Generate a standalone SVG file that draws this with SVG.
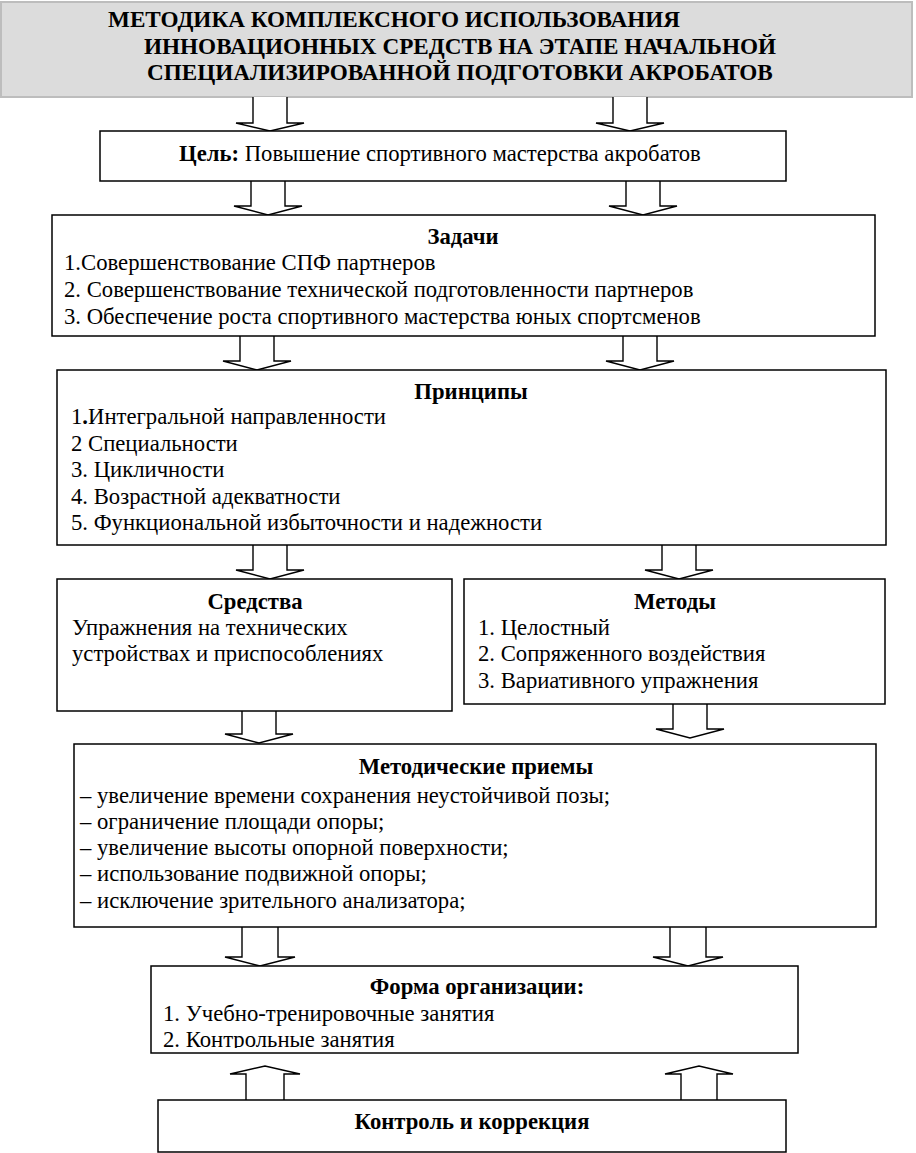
<svg xmlns="http://www.w3.org/2000/svg" width="916" height="1153" viewBox="0 0 916 1153">
<style>
  .box { fill: #ffffff; stroke: #000000; stroke-width: 1.5; }
  .title-box { fill: #dcdcdc; stroke: #bdbdbd; stroke-width: 2; }
  .arrow { fill: #ffffff; stroke: #000000; stroke-width: 1.4; stroke-linejoin: miter; }
  text { font-family: "Liberation Serif", "Times New Roman", serif; fill: #000000; }
  .t { font-size: 22.7px; }
  .h { font-size: 22.7px; font-weight: bold; }
  .big { font-size: 23.2px; font-weight: bold; }
  .c { text-anchor: middle; }
</style>
<defs>
  <clipPath id="formaClip"><rect x="151" y="966" width="647" height="82"/></clipPath>
</defs>
<rect width="916" height="1153" fill="#ffffff"/>

<g id="title">
  <rect class="title-box" x="1" y="2" width="911" height="95"/>
  <text class="big" x="108" y="27">МЕТОДИКА КОМПЛЕКСНОГО ИСПОЛЬЗОВАНИЯ</text>
  <text class="big" x="144" y="54">ИННОВАЦИОННЫХ СРЕДСТВ НА ЭТАПЕ НАЧАЛЬНОЙ</text>
  <text class="big" x="147" y="80">СПЕЦИАЛИЗИРОВАННОЙ ПОДГОТОВКИ АКРОБАТОВ</text>
</g>

<g id="connectors">
  <path class="arrow" d="M253,97 V123 H236 L270,131 L304,123 H287 V97"/>
  <path class="arrow" d="M613,97 V123 H596 L630,131 L664,123 H647 V97"/>
  <path class="arrow" d="M251,181 V206 H234 L268,215 L302,206 H285 V181"/>
  <path class="arrow" d="M626,181 V206 H609 L643,215 L677,206 H660 V181"/>
  <path class="arrow" d="M240,336 V361 H223 L257,370 L291,361 H274 V336"/>
  <path class="arrow" d="M623,336 V361 H606 L640,370 L674,361 H657 V336"/>
  <path class="arrow" d="M253,545 V570 H236 L270,579 L304,570 H287 V545"/>
  <path class="arrow" d="M662,545 V570 H645 L679,579 L713,570 H696 V545"/>
  <path class="arrow" d="M242,711 V734 H225 L259,743 L293,734 H276 V711"/>
  <path class="arrow" d="M673,704 V729 H656 L690,738 L724,729 H707 V704"/>
  <path class="arrow" d="M242,927 V957 H225 L260,966 L295,957 H278 V927"/>
  <path class="arrow" d="M670,927 V957 H653 L688,966 L723,957 H706 V927"/>
  <path class="arrow" d="M246,1100 V1074 H230 L265,1066 L300,1074 H284 V1100"/>
  <path class="arrow" d="M681,1100 V1074 H665 L699,1066 L733,1074 H717 V1100"/>
</g>

<g id="goal">
  <rect class="box" x="100" y="131" width="686" height="50"/>
  <text class="t" x="179" y="161"><tspan font-weight="bold">Цель:</tspan> Повышение спортивного мастерства акробатов</text>
</g>

<g id="tasks">
  <rect class="box" x="52" y="215" width="823" height="121"/>
  <text class="h c" x="463" y="244">Задачи</text>
  <text class="t" x="64" y="270">1.Совершенствование СПФ партнеров</text>
  <text class="t" x="64" y="297">2. Совершенствование технической подготовленности партнеров</text>
  <text class="t" x="64" y="324">3. Обеспечение роста спортивного мастерства юных спортсменов</text>
</g>

<g id="principles">
  <rect class="box" x="57" y="370" width="829" height="175"/>
  <text class="h c" x="471" y="399">Принципы</text>
  <text class="t" x="71" y="424">1<tspan font-weight="bold">.</tspan>Интегральной направленности</text>
  <text class="t" x="71" y="451">2 Специальности</text>
  <text class="t" x="71" y="477">3. Цикличности</text>
  <text class="t" x="71" y="504">4. Возрастной адекватности</text>
  <text class="t" x="71" y="530">5. Функциональной избыточности и надежности</text>
</g>

<g id="means">
  <rect class="box" x="57" y="579" width="395" height="132"/>
  <text class="h c" x="255" y="609">Средства</text>
  <text class="t" x="72" y="635">Упражнения на технических</text>
  <text class="t" x="72" y="661">устройствах и приспособлениях</text>
</g>

<g id="methods">
  <rect class="box" x="464" y="579" width="421" height="125"/>
  <text class="h c" x="675" y="609">Методы</text>
  <text class="t" x="478" y="635">1. Целостный</text>
  <text class="t" x="478" y="661">2. Сопряженного воздействия</text>
  <text class="t" x="478" y="688">3. Вариативного упражнения</text>
</g>

<g id="techniques">
  <rect class="box" x="74" y="744" width="802" height="183"/>
  <text class="h c" x="476" y="774">Методические приемы</text>
  <text class="t" x="80" y="803">– увеличение времени сохранения неустойчивой позы;</text>
  <text class="t" x="80" y="829">– ограничение площади опоры;</text>
  <text class="t" x="80" y="855">– увеличение высоты опорной поверхности;</text>
  <text class="t" x="80" y="881">– использование подвижной опоры;</text>
  <text class="t" x="80" y="908">– исключение зрительного анализатора;</text>
</g>

<g id="form">
  <rect class="box" x="151" y="966" width="647" height="87"/>
  <text class="h c" x="477" y="994">Форма организации:</text>
  <text class="t" x="163" y="1021">1. Учебно-тренировочные занятия</text>
  <text class="t" x="163" y="1047" clip-path="url(#formaClip)">2. Контрольные занятия</text>
</g>

<g id="control">
  <rect class="box" x="158" y="1100" width="628" height="52"/>
  <text class="h c" x="472" y="1129">Контроль и коррекция</text>
</g>
</svg>
